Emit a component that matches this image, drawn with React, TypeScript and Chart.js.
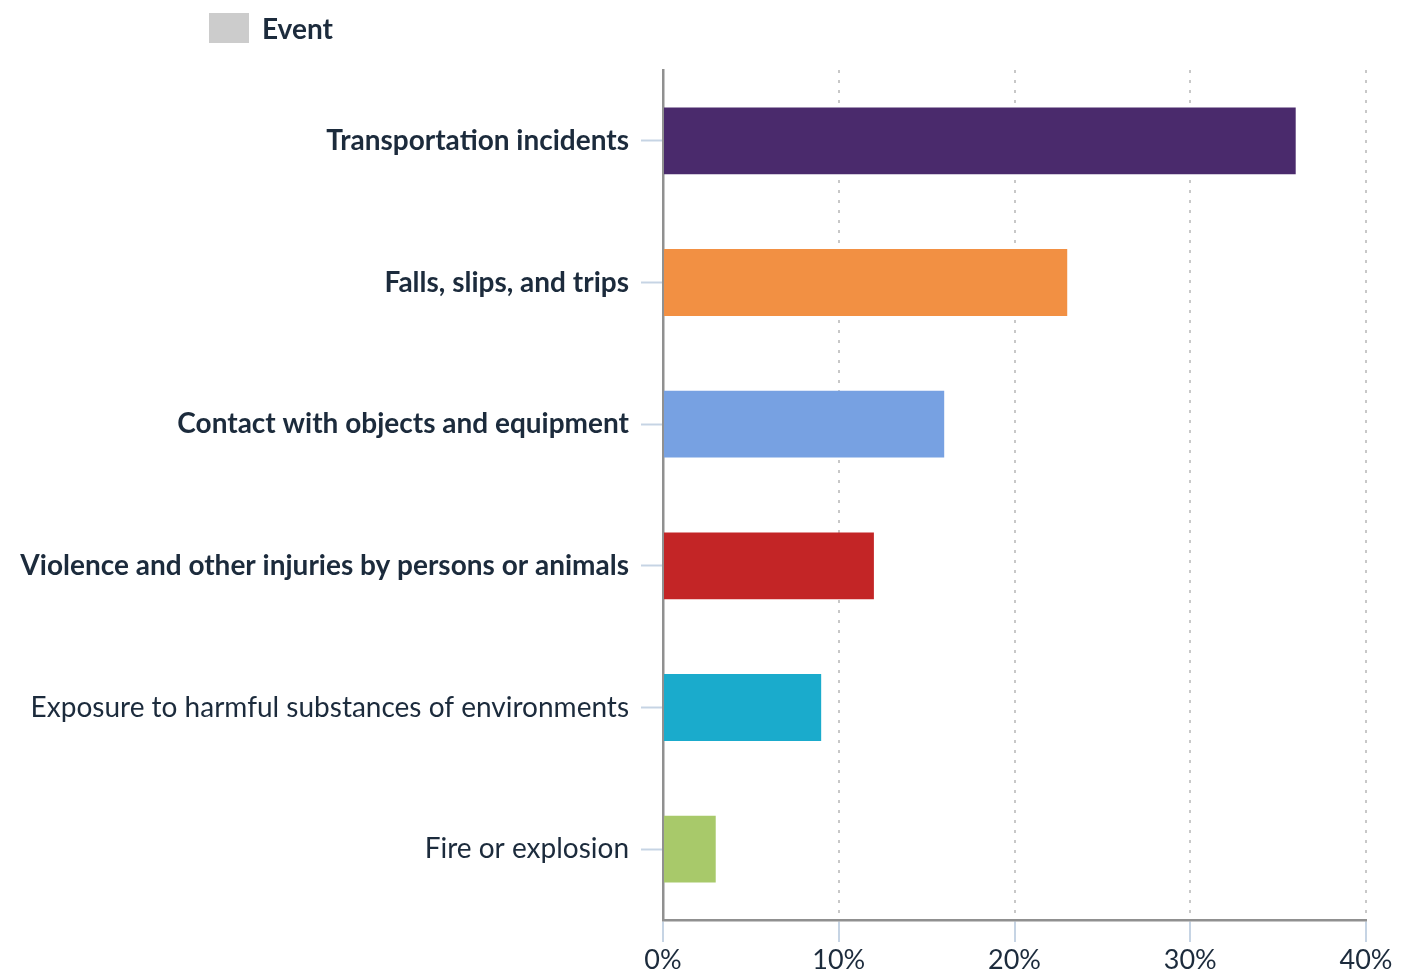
import React, { useEffect, useRef } from "react";
import { Chart, registerables } from "chart.js";

Chart.register(...registerables);

const categories = [
  "Transportation incidents",
  "Falls, slips, and trips",
  "Contact with objects and equipment",
  "Violence and other injuries by persons or animals",
  "Exposure to harmful substances of environments",
  "Fire or explosion",
];
const values = [36, 23, 16, 12, 9, 3];
const barColors = ["#4a2a6c", "#f29043", "#77a1e2", "#c32526", "#1aabcc", "#a8c96a"];
const boldLabels = [true, true, true, true, false, false];
const xTicks = [0, 10, 20, 30, 40];
const seriesName = "Event";

const FONT = "Lato, 'Open Sans', sans-serif";
const TEXT = "#1c2b3c";

const legendPlugin = {
  id: "customLegend",
  afterDraw(chart: any) {
    const ctx = chart.ctx;
    ctx.save();
    ctx.fillStyle = "#cccccc";
    ctx.fillRect(209, 13, 40, 30);
    ctx.fillStyle = TEXT;
    ctx.font = `bold 28px ${FONT}`;
    ctx.textBaseline = "middle";
    ctx.textAlign = "left";
    ctx.fillText(seriesName, 262, 30);
    ctx.restore();
  },
};

export default function App() {
  const ref = useRef<HTMLCanvasElement>(null);
  useEffect(() => {
    if (!ref.current) return;
    const chart = new Chart(ref.current, {
      type: "bar",
      data: {
        labels: categories,
        datasets: [
          {
            label: seriesName,
            data: values,
            backgroundColor: barColors,
            borderWidth: 0,
            categoryPercentage: 1,
            barPercentage: 0.472,
          },
        ],
      },
      plugins: [legendPlugin],
      options: {
        indexAxis: "y",
        animation: false,
        responsive: false,
        layout: { padding: { top: 70, right: 37, left: 0, bottom: 0 } },
        plugins: { legend: { display: false }, tooltip: { enabled: false } },
        scales: {
          x: {
            min: 0,
            max: 40,
            afterBuildTicks: (scale: any) => {
              scale.ticks = xTicks.map((v) => ({ value: v }));
            },
            ticks: {
              callback: (v: any) => v + "%",
              color: TEXT,
              font: { family: FONT, size: 27 },
              padding: 2,
              maxRotation: 0,
            },
            grid: {
              color: (c: any) => (c.index === 0 ? "rgba(0,0,0,0)" : "#c8c8c8"),
              lineWidth: 2,
              drawTicks: true,
              tickLength: 22,
              tickColor: "#c6d4e4",
              tickWidth: 2,
            },
            border: { display: true, color: "#909090", width: 2.5, dash: [3, 7] },
            afterFit: (scale: any) => {
              scale.height = 53;
            },
          },
          y: {
            ticks: {
              color: TEXT,
              padding: 12,
              font: (c: any) => ({
                family: FONT,
                size: 28,
                weight: boldLabels[c.index] ? "bold" : "normal",
              }),
            },
            grid: {
              offset: false,
              drawOnChartArea: false,
              drawTicks: true,
              tickLength: 22,
              tickColor: "#c6d4e4",
              tickWidth: 2,
            },
            border: { display: true, color: "#909090", width: 2.5 },
            afterFit: (scale: any) => {
              scale.width = 663;
            },
          },
        },
      },
    } as any);
    return () => chart.destroy();
  }, []);
  return (
    <div style={{ position: "absolute", left: 0, top: 0, width: 1403, height: 973, background: "#fff" }}>
      <canvas ref={ref} width={1403} height={973} style={{ display: "block" }} />
    </div>
  );
}
